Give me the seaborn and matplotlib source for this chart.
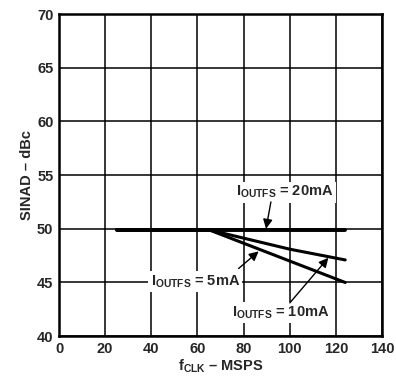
import matplotlib
matplotlib.use("Agg")
import matplotlib.pyplot as plt
import seaborn as sns
import pandas as pd

# Data
freq_20 = [25, 65, 124]
sinad_20 = [49.9, 49.9, 49.9]
freq_10 = [25, 65, 100, 124]
sinad_10 = [49.9, 49.9, 48.1, 47.1]
freq_5 = [25, 65, 124]
sinad_5 = [49.9, 49.9, 45.0]
x_ticks = [0, 20, 40, 60, 80, 100, 120, 140]
y_ticks = [40, 45, 50, 55, 60, 65, 70]

sns.set_style("white")
plt.rcParams['font.family'] = ['Liberation Sans', 'DejaVu Sans']
plt.rcParams['font.weight'] = 'bold'
plt.rcParams['mathtext.fontset'] = 'custom'
plt.rcParams['mathtext.rm'] = 'Liberation Sans:bold'
plt.rcParams['mathtext.it'] = 'Liberation Sans:bold'
plt.rcParams['mathtext.bf'] = 'Liberation Sans:bold'
plt.rcParams['mathtext.default'] = 'rm'

df = pd.concat([
    pd.DataFrame({'f': freq_20, 's': sinad_20, 'c': '20mA'}),
    pd.DataFrame({'f': freq_10, 's': sinad_10, 'c': '10mA'}),
    pd.DataFrame({'f': freq_5, 's': sinad_5, 'c': '5mA'}),
])

fig = plt.figure(figsize=(3.96, 3.79), dpi=100)
ax = fig.add_axes([0.149, 0.113, 0.816, 0.850])

sns.lineplot(data=df, x='f', y='s', hue='c', size='c',
             palette={'20mA': 'black', '10mA': 'black', '5mA': 'black'},
             sizes={'20mA': 2.8, '10mA': 2.2, '5mA': 2.2},
             legend=False, ax=ax, zorder=3)

ax.set_xlim(0, 140)
ax.set_ylim(40, 70)
ax.set_xticks(x_ticks)
ax.set_yticks(y_ticks)
ax.grid(True, color='black', linewidth=1.1)
for sp in ax.spines.values():
    sp.set_linewidth(1.8)
    sp.set_color('black')
ax.tick_params(length=0, labelsize=10.5, pad=4)
for lab in ax.get_xticklabels() + ax.get_yticklabels():
    lab.set_fontweight('bold')

ax.set_xlabel(r'f$_{CLK}$ – MSPS', fontsize=10.5, fontweight='bold', labelpad=1)
ax.set_ylabel('SINAD – dBc', fontsize=10.5, fontweight='bold', labelpad=2)

bbox = dict(boxstyle='square,pad=0.15', fc='white', ec='none')
arrow = dict(arrowstyle='-|>', color='black', lw=1.0, mutation_scale=14, shrinkA=0, shrinkB=0)

fs = 10.5
ax.text(98, 53.4, r'I$_{OUTFS}$ = 20mA', ha='center', va='center', fontsize=fs,
        fontweight='bold', bbox=bbox, zorder=4)
ax.annotate('', xy=(89.7, 50.0), xytext=(91.8, 52.5), arrowprops=arrow, zorder=4)

ax.text(59, 45.1, r'I$_{OUTFS}$ = 5mA', ha='center', va='center', fontsize=fs,
        fontweight='bold', bbox=bbox, zorder=4)
ax.annotate('', xy=(86.5, 47.9), xytext=(77.8, 46.3), arrowprops=arrow, zorder=4)

ax.text(96, 42.2, r'I$_{OUTFS}$ = 10mA', ha='center', va='center', fontsize=fs,
        fontweight='bold', bbox=bbox, zorder=4)
ax.annotate('', xy=(116.7, 47.3), xytext=(100, 43.1), arrowprops=arrow, zorder=4)

fig.savefig('out.png', dpi=100)
